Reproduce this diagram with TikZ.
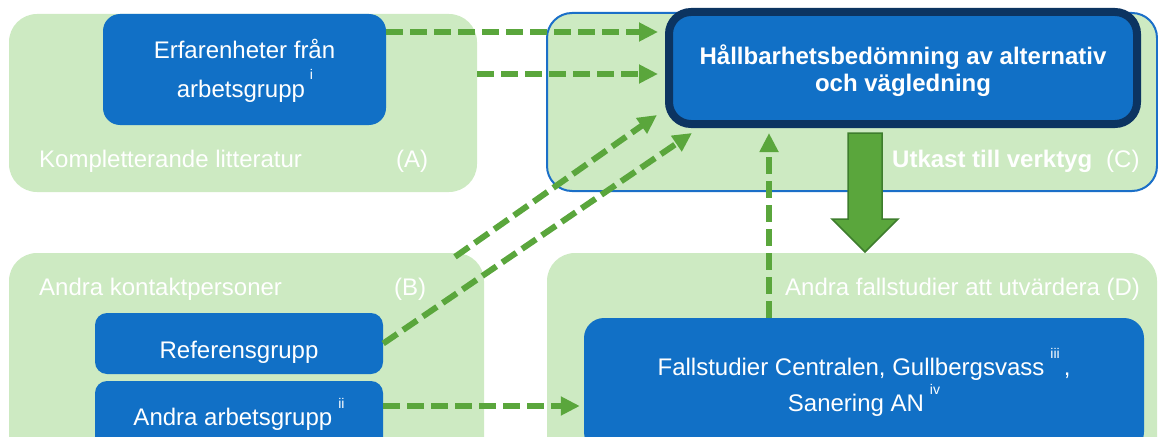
\documentclass[tikz,border=0pt]{standalone}
\usepackage{fontspec}
\setmainfont{Liberation Sans}
\usetikzlibrary{arrows.meta,calc}
\definecolor{lgreen}{HTML}{CDEAC2}
\definecolor{mblue}{HTML}{1170C6}
\definecolor{navy}{HTML}{0C3461}
\definecolor{agreen}{HTML}{5AA63C}
\definecolor{dgreen}{HTML}{3E7D2D}
\definecolor{cborder}{HTML}{1B6FC8}
\newcommand{\mysup}[2]{\raisebox{#1}{\fontsize{14}{14}\selectfont #2}}
\begin{document}
\begin{tikzpicture}[x=1pt,y=-1pt,
  group/.style={fill=lgreen, draw=none, rounded corners=28pt, inner sep=0pt},
  bbox/.style={fill=mblue, draw=none, inner sep=0pt},
  lbl/.style={text=white, font=\fontsize{24}{28}\selectfont, inner sep=0pt, anchor=base west},
  ctr/.style={text=white, font=\fontsize{24}{28}\selectfont, inner sep=0pt, anchor=base},
  boldtxt/.style={font=\fontsize{24}{28}\selectfont\bfseries},
  dasharrow/.style={draw=agreen, line width=6pt, dash pattern=on 17pt off 7pt,
    -{Triangle[length=19pt,width=18pt]}}]
\useasboundingbox (0,0) rectangle (1158,436);
\clip (0,0) rectangle (1158,436);

% groups
\node[group, minimum width=468pt, minimum height=178pt] (A) at (243,103) {};
\node[group, minimum width=475pt, minimum height=240pt] (B) at (246.5,373) {};
\node[group, draw=cborder, line width=2pt, rounded corners=25pt, minimum width=610pt, minimum height=178pt] (C) at (852,102) {};
\node[group, minimum width=610pt, minimum height=240pt] (D) at (852,373) {};

% blue boxes
\node[bbox, rounded corners=17pt, minimum width=283pt, minimum height=111pt] (erf) at (244.5,69.5) {};
\node[bbox, draw=navy, line width=8pt, rounded corners=22pt, minimum width=468pt, minimum height=112pt] (main) at (903,68) {};
\node[bbox, rounded corners=12pt, minimum width=288pt, minimum height=61pt] (ref) at (239,343.5) {};
\node[bbox, rounded corners=12pt, minimum width=288pt, minimum height=70pt] (aag) at (239,416) {};
\node[bbox, rounded corners=20pt, minimum width=560pt, minimum height=134pt] (fall) at (864,385) {};

% texts
\node[ctr] (erft1) at (244.5,59) {Erfarenheter från};
\node[ctr] (erft2) at (245,97) {arbetsgrupp\hspace{5pt}\mysup{18pt}{i}};
\node[lbl] (Alab) at (39,167) {Kompletterande litteratur};
\node[lbl] (Aid) at (396,167) {(A)};
\node[lbl] (Blab) at (39,295) {Andra kontaktpersoner};
\node[lbl] (Bid) at (394,295) {(B)};
\node[ctr] (reft) at (239,358) {Referensgrupp};
\node[ctr] (aagt) at (239,425) {Andra arbetsgrupp\hspace{6pt}\mysup{17pt}{ii}};
\node[ctr, boldtxt] (mt1) at (903,64) {Hållbarhetsbedömning av alternativ};
\node[ctr, boldtxt] (mt2) at (903,91) {och vägledning};
\node[lbl, boldtxt] (Clab) at (892,167) {Utkast till verktyg};
\node[lbl] (Cid) at (1106,167) {(C)};
\node[lbl] (Dlab) at (785,295) {Andra fallstudier att utvärdera (D)};
\node[ctr] (ft1) at (864,375) {Fallstudier Centralen, Gullbergsvass\hspace{6pt}\mysup{17pt}{iii}\hspace{4pt},};
\node[ctr] (ft2) at (864,411) {Sanering AN\hspace{6pt}\mysup{17pt}{iv}};

% big arrow
\filldraw[fill=agreen, draw=dgreen, line width=1.5pt, line join=miter]
  (848,133) -- (882,133) -- (882,219) -- (898,219) -- (865,252) -- (832,219) -- (848,219) -- cycle;

% dashed connectors
\coordinate (a1) at ([yshift=37.5pt]erf.east);
\draw[dasharrow, shorten >=7pt] (a1) -- (a1 -| main.west);
\coordinate (a2) at ([yshift=29pt]A.east);
\draw[dasharrow, shorten >=7pt] (a2) -- (a2 -| main.west);
\coordinate (b3) at ($(B.north)+(208.5,4)$);
\coordinate (t3) at ($(main.south west)+(-8,-13)$);
\draw[dasharrow] (b3) -- (t3);
\coordinate (t4) at ($(main.south west)+(27,5)$);
\draw[dasharrow] (ref.east) -- (t4);
\coordinate (a5) at ([yshift=10pt]aag.east);
\draw[dasharrow, shorten >=4pt] (a5) -- (a5 -| fall.west);
\coordinate (v6) at ($(fall.north)+(-95,0)$);
\draw[dasharrow, shorten >=5pt] (v6) -- (v6 |- main.south);
\end{tikzpicture}
\end{document}
